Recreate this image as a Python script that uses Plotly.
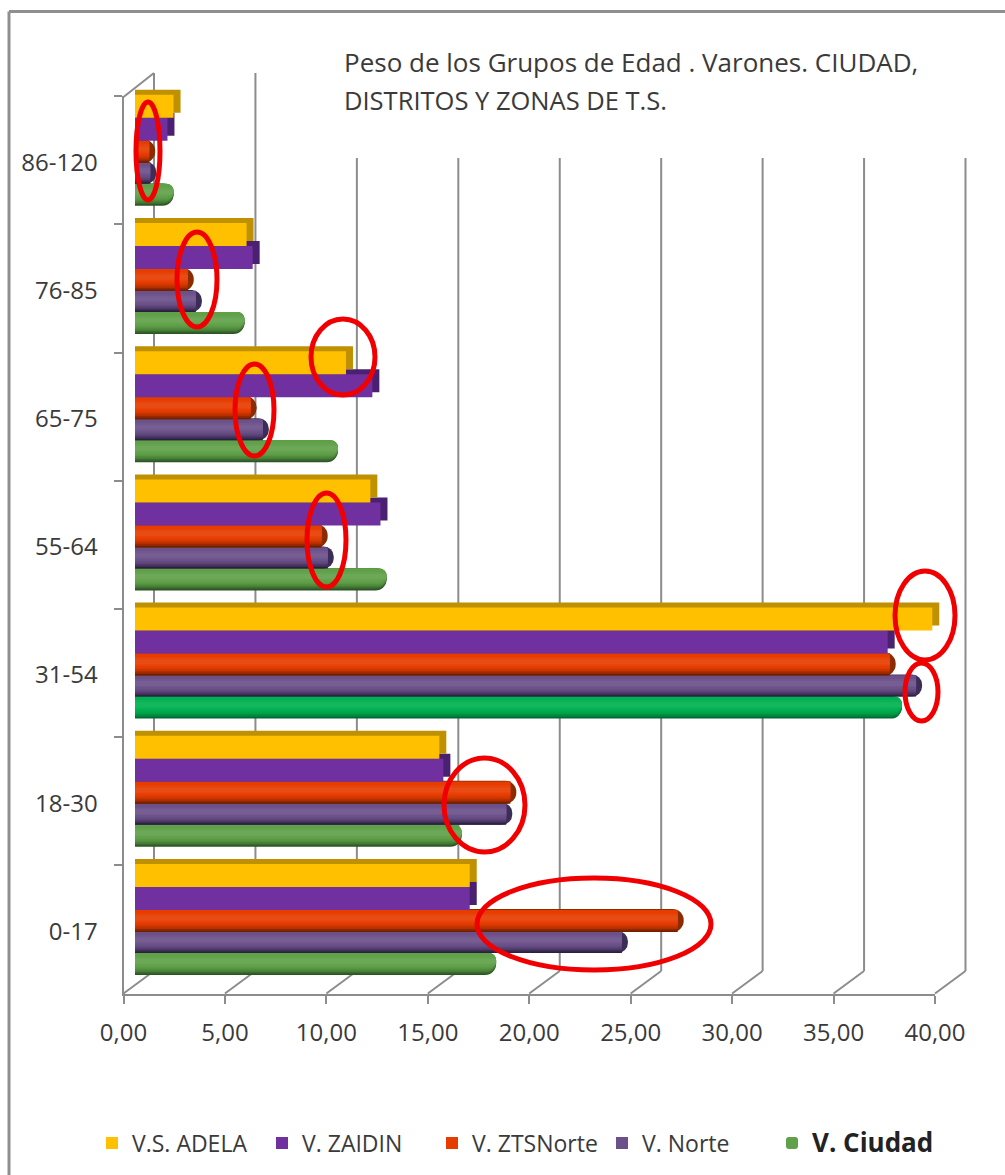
import plotly.graph_objects as go

# ---------- data ----------
categories = ["0-17", "18-30", "31-54", "55-64", "65-75", "76-85", "86-120"]
adela = [16.5, 15.0, 39.3, 11.6, 10.4, 5.5, 1.9]
zaidin = [16.5, 15.2, 37.1, 12.1, 11.7, 5.8, 1.6]
zts_norte = [26.75, 18.5, 37.2, 9.2, 5.7, 2.6, 0.7]
norte = [24.0, 18.3, 38.5, 9.5, 6.3, 3.0, 0.75]
ciudad = [17.8, 16.1, 37.8, 12.4, 10.0, 5.4, 1.9]
x_ticks = [0, 5, 10, 15, 20, 25, 30, 35, 40]

W, H = 1005, 1175
PITCH = 128.2
FRONT_X0, FRONT_X1 = 123.5, 935.0
FRONT_Y = 993.5
BAR_SHIFT_X, BAR_SHIFT_Y = 11.5, 11.0
DEPTH_X, DEPTH_Y = 30.5, 22.5
GRID = "#8C8C8C"
TEXT = "#3A3A3A"
FONT = "Open Sans, sans-serif"
UNIT = (FRONT_X1 - FRONT_X0) / 40


def px(x):
    return x / W


def py(y):
    return 1 - y / H


def hexrgb(c):
    return tuple(int(c[i:i + 2], 16) for i in (1, 3, 5))


def mix(a, b, t):
    a, b = hexrgb(a), hexrgb(b)
    return "#%02x%02x%02x" % tuple(round(a[i] + (b[i] - a[i]) * t) for i in range(3))


GROUP0_CENTRE = FRONT_Y - BAR_SHIFT_Y - PITCH / 2
fig = go.Figure()

# invisible trace so that the front axes are drawn
fig.add_trace(go.Scatter(x=[0] * len(categories), y=categories, mode="markers",
                         marker=dict(opacity=0), showlegend=False, hoverinfo="skip"))


def band(values, top, bottom, color, radius=0, extra=0.0, name=None, rank=None):
    fig.add_trace(go.Bar(
        x=[v + extra for v in values], y=categories, orientation="h",
        xaxis="x2", yaxis="y2",
        offset=(GROUP0_CENTRE - bottom) / PITCH,
        width=(bottom - top) / PITCH,
        marker=dict(color=color, line=dict(width=0), cornerradius=radius),
        name=name if name else "", showlegend=name is not None,
        legendrank=rank if rank else 1000, hoverinfo="skip", cliponaxis=False))


def cuboid(values, top, bottom, base, dark, name, rank):
    band(values, top - 5, bottom - 5, dark, extra=7 / UNIT)
    band(values, top, bottom, base, name=name, rank=rank)


def cylinder(values, top, bottom, base, dark, name, rank, rounded=False, end=None):
    h = bottom - top
    bases = base if isinstance(base, list) else [base] * len(values)
    darks = dark if isinstance(dark, list) else [dark] * len(values)
    if not rounded:
        band(values, top - 1, bottom, end or dark, radius=h / 2, extra=6 / UNIT)
    # (top inset, bottom inset, amount of base colour, whitening)
    layers = [(0, 0, 0.0, 0), (0, .07, .30, 0), (0, .14, .55, 0), (0, .21, .75, 0),
              (0, .28, .90, 0), (0, .35, 1.0, 0), (.16, .44, 1.0, .04), (.26, .52, 1.0, .08)]
    for i, (ti, bi, t, lt) in enumerate(layers):
        cols = [mix(mix(d, b, t), "#ffffff", lt) for b, d in zip(bases, darks)]
        lay_top = top + ti * h
        lay_bot = bottom - bi * h
        r = (lay_bot - lay_top) / 2 if rounded else 0
        if i == 5:
            band(values, lay_top, lay_bot, cols, radius=r, name=name, rank=rank)
        else:
            band(values, lay_top, lay_bot, cols, radius=r)


ciudad_base = ["#5FA048", "#5FA048", "#00B050", "#5FA048", "#5FA048", "#5FA048", "#5FA048"]
ciudad_dark = ["#2C5524", "#2C5524", "#006B30", "#2C5524", "#2C5524", "#2C5524", "#2C5524"]

cylinder(ciudad, 953, 975, ciudad_base, ciudad_dark,
         '<b><span style="font-size:26px;color:#222">V. Ciudad</span></b>', 5, rounded=True)
cylinder(norte, 932, 953, "#6B5089", "#2B2040", "V. Norte", 4, end="#3C2D58")
cylinder(zts_norte, 910, 932, "#E63C00", "#702000", "V. ZTSNorte", 3, end="#8A2C00")
cuboid(zaidin, 887, 910, "#7030A0", "#4A2070", "V. ZAIDIN", 2)
cuboid(adela, 864, 887, "#FFC000", "#BF9000", "V.S. ADELA", 1)

# ---------- walls / gridlines ----------
shapes = []


def line(x0, y0, x1, y1, color=GRID, width=2):
    shapes.append(dict(type="line", xref="paper", yref="paper", layer="below",
                       x0=px(x0), y0=py(y0), x1=px(x1), y1=py(y1),
                       line=dict(color=color, width=width)))


BACK_Y = FRONT_Y - DEPTH_Y
for t in x_ticks:
    fx = FRONT_X0 + t * UNIT
    bx = fx + DEPTH_X
    top = 73 if t <= 5 else 158
    line(fx, FRONT_Y, bx, BACK_Y)
    line(bx, BACK_Y, bx, top)
line(FRONT_X0, 97, FRONT_X0 + DEPTH_X, 73)

# red hand-drawn ellipses (pixel boxes)
ellipses = [(136, 102, 160, 200), (177, 232, 217, 327), (311, 319, 375, 395),
            (235, 364, 274, 456), (307, 493, 346, 587), (895, 571, 955, 660),
            (905, 663, 938, 721), (444, 758, 525, 852), (477, 878, 711, 970)]
for x0, y0, x1, y1 in ellipses:
    shapes.append(dict(type="circle", xref="paper", yref="paper", layer="above",
                       x0=px(x0), y0=py(y0), x1=px(x1), y1=py(y1),
                       line=dict(color="#F00000", width=5), fillcolor="rgba(0,0,0,0)"))

# outer frame
line(9, 11.5, 9, H, color="#8F8F8F", width=3)
line(9, 11.5, W, 11.5, color="#8F8F8F", width=3)

axis_common = dict(showgrid=False, zeroline=False)
fig.update_layout(
    width=W, height=H, autosize=False,
    margin=dict(l=0, r=0, t=0, b=0),
    paper_bgcolor="white", plot_bgcolor="rgba(0,0,0,0)",
    separators=",.",
    barmode="overlay", font=dict(family=FONT, color=TEXT),
    xaxis=dict(domain=[px(FRONT_X0), px(FRONT_X1)], range=[0, 40], anchor="y",
               tickmode="array", tickvals=x_ticks, tickformat=".2f",
               ticks="outside", ticklen=8, tickwidth=2, tickcolor=GRID,
               showline=True, linecolor=GRID, linewidth=2, automargin=False,
               tickfont=dict(size=24, color=TEXT), ticklabelstandoff=9, **axis_common),
    yaxis=dict(domain=[py(FRONT_Y), py(FRONT_Y - 7 * PITCH)], anchor="x",
               type="category", categoryorder="array", categoryarray=categories,
               range=[-0.5, 6.5], tickson="boundaries", automargin=False,
               ticks="outside", ticklen=8, tickwidth=2, tickcolor=GRID,
               showline=True, linecolor=GRID, linewidth=2, ticklabelshift=2,
               tickfont=dict(size=24, color=TEXT), ticklabelstandoff=19, **axis_common),
    xaxis2=dict(domain=[px(FRONT_X0 + BAR_SHIFT_X), px(FRONT_X1 + BAR_SHIFT_X)], range=[0, 40],
                anchor="y2", visible=False, **axis_common),
    yaxis2=dict(domain=[py(FRONT_Y - BAR_SHIFT_Y), py(FRONT_Y - BAR_SHIFT_Y - 7 * PITCH)], anchor="x2",
                type="category", categoryorder="array", categoryarray=categories,
                range=[-0.5, 6.5], visible=False, **axis_common),
    shapes=shapes,
    legend=dict(orientation="h", x=px(92), y=py(1143), xanchor="left", yanchor="middle",
                entrywidth=125, entrywidthmode="pixels", itemwidth=30,
                font=dict(size=23, color=TEXT), bgcolor="rgba(0,0,0,0)"),
    annotations=[
        dict(text="Peso de los Grupos de Edad . Varones. CIUDAD,", xref="paper", yref="paper",
             x=px(342), y=py(62), xanchor="left", yanchor="middle", showarrow=False,
             font=dict(size=26, color=TEXT, family=FONT)),
        dict(text="DISTRITOS Y ZONAS DE T.S.", xref="paper", yref="paper",
             x=px(342), y=py(100), xanchor="left", yanchor="middle", showarrow=False,
             font=dict(size=25.5, color=TEXT, family=FONT)),
    ],
)

fig.write_html("out.html", config=dict(displayModeBar=False),
               post_script="document.body.style.margin='0';")
